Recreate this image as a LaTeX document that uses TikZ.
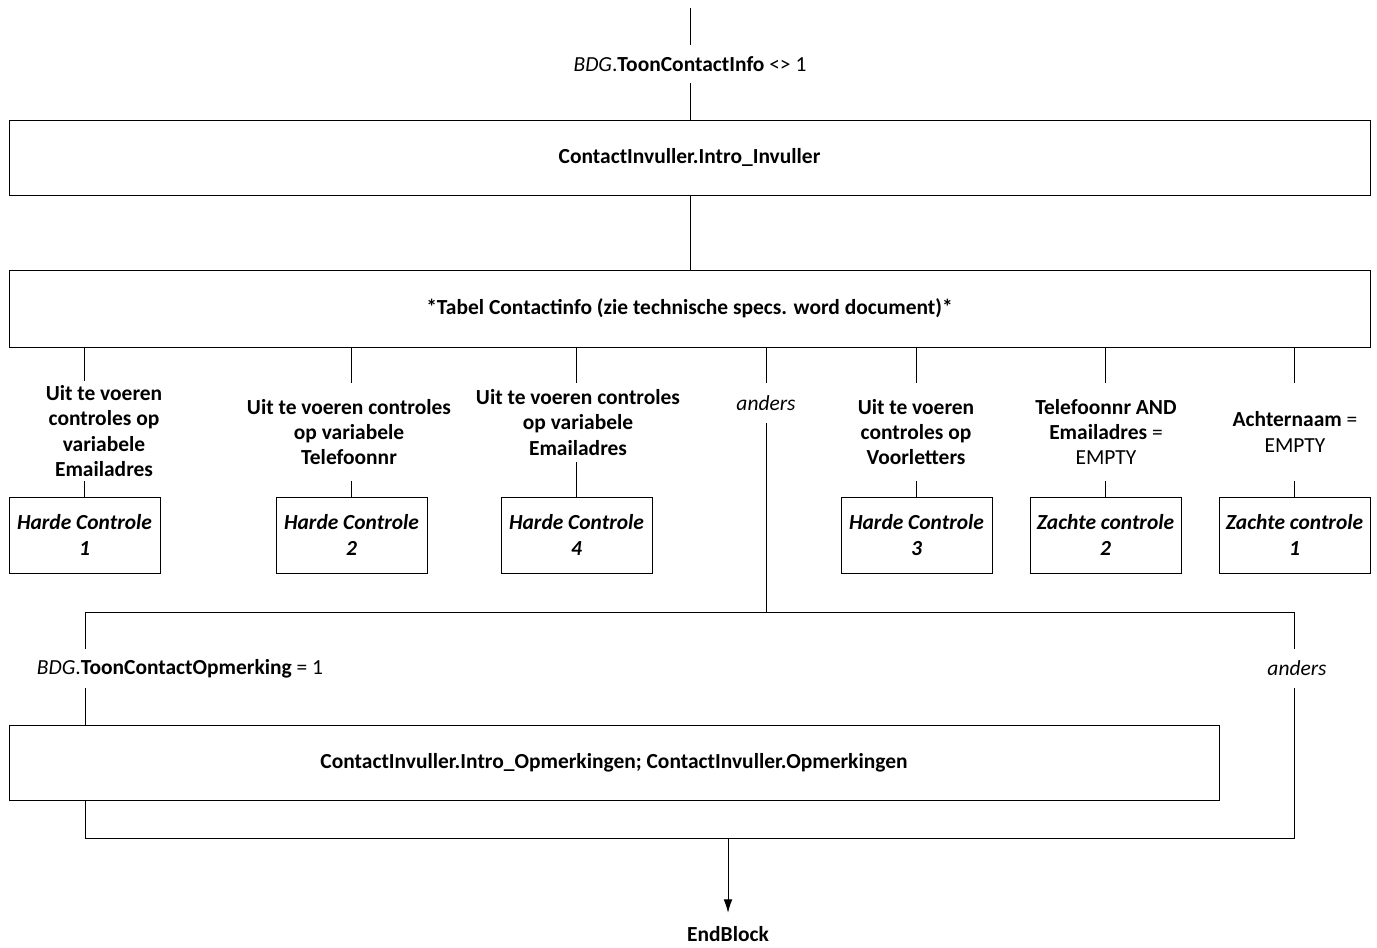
\documentclass[tikz,border=0pt]{standalone}
\usepackage{fontspec}
\setmainfont{Carlito}
\usetikzlibrary{arrows.meta,shadows}

\newcommand\flowfont{\fontsize{16.1}{18.9}\selectfont}

\tikzset{
  px/.style={x=0.75pt, y=-0.75pt},
  flow/.style={line width=0.6pt},
  wide/.style={draw, fill=white, line width=0.6pt, minimum height=56.25pt,
    font=\flowfont\bfseries,
    drop shadow={shadow xshift=0.7pt, shadow yshift=-0.7pt, fill=black!45, opacity=1}},
  check/.style={draw, fill=white, line width=0.6pt, minimum width=113.25pt,
    minimum height=57pt, align=center, font=\flowfont\bfseries\itshape,
    drop shadow={shadow xshift=0.7pt, shadow yshift=-0.7pt, fill=black!45, opacity=1}},
  cond/.style={align=center, inner sep=0pt, font=\flowfont\bfseries},
  otherwise/.style={inner sep=0pt, font=\flowfont\itshape},
  guard/.style={inner sep=0pt, font=\flowfont}
}

\begin{document}
\begin{tikzpicture}[px]
\useasboundingbox (0,0) rectangle (1377,948);

% start
\coordinate (start) at (690,8);
\node[guard, minimum height=28.5pt] (cinfo) at (690,64)
  {\textit{BDG}.\textbf{ToonContactInfo} <> 1};
\node[wide, minimum width=1020.75pt] (intro) at (689.5,157.5)
  {ContactInvuller.Intro\_Invuller};
\node[wide, minimum width=1020.75pt, minimum height=57.75pt] (tabel) at (689.5,308.5)
  {*Tabel Contactinfo (zie technische specs. word document)*};

\draw[flow] (start) -- (cinfo.north);
\draw[flow] (cinfo.south) -- (cinfo.south |- intro.north);
\draw[flow] (cinfo.south |- intro.south) -- (cinfo.south |- tabel.north);

% controles
\node[check] (hc1) at (84.5,535) {Harde Controle\\1};
\node[check] (hc2) at (351.5,535) {Harde Controle\\2};
\node[check] (hc4) at (576.5,535) {Harde Controle\\4};
\node[check] (hc3) at (916.5,535) {Harde Controle\\3};
\node[check] (zc2) at (1105.5,535) {Zachte controle\\2};
\node[check] (zc1) at (1294.5,535) {Zachte controle\\1};

\node[cond, minimum height=75pt] (lbl1) at (104,431)
  {Uit te voeren\\controles op\\variabele\\Emailadres};
\node[cond, minimum height=72.75pt] (lbl2) at (349,432)
  {Uit te voeren controles\\op variabele\\Telefoonnr};
\node[cond, minimum height=59.25pt] (lbl3) at (578,422.5)
  {Uit te voeren controles\\op variabele\\Emailadres};
\node[otherwise, minimum height=30pt] (anders1) at (766,403) {anders};
\node[cond, minimum height=72.75pt] (lbl5) at (916,432)
  {Uit te voeren\\controles op\\Voorletters};
\node[cond, minimum height=72.75pt] (lbl6) at (1106,432)
  {Telefoonnr AND\\Emailadres {\mdseries =}\\{\mdseries EMPTY}};
\node[cond, minimum height=72.75pt] (lbl7) at (1295,432)
  {Achternaam {\mdseries =}\\{\mdseries EMPTY}};

\foreach \c/\l in {hc1/lbl1, hc2/lbl2, hc4/lbl3, hc3/lbl5, zc2/lbl6, zc1/lbl7} {
  \draw[flow] (\c.north |- tabel.south) -- (\c.north |- \l.north);
  \draw[flow] (\c.north |- \l.south) -- (\c.north);
}

% opmerkingen
\coordinate (splitL) at (85,612);
\coordinate (splitR) at (1294.5,612);
\coordinate (joinL) at (85,838);
\coordinate (joinR) at (1294.5,838);

\node[guard, minimum height=29.25pt] (opm) at (180,668.5)
  {\textit{BDG}.\textbf{ToonContactOpmerking} = 1};
\node[otherwise, minimum height=29.25pt] (anders2) at (1297,668.5) {anders};
\node[wide, minimum width=907.5pt] (opmbox) at (614,762.5)
  {ContactInvuller.Intro\_Opmerkingen; ContactInvuller.Opmerkingen};
\node[inner sep=0pt, minimum height=31.5pt, font=\flowfont\bfseries] (endblock) at (728,934)
  {EndBlock};

\draw[flow] (anders1.north |- tabel.south) -- (anders1.north);
\draw[flow] (anders1.south) -- (anders1.south |- splitL);
\draw[flow] (splitL) -- (splitR);
\draw[flow] (splitL) -- (splitL |- opm.north);
\draw[flow] (splitL |- opm.south) -- (splitL |- opmbox.north);
\draw[flow] (splitR) -- (splitR |- anders2.north);
\draw[flow] (splitL |- opmbox.south) -- (joinL) -- (joinR) -- (splitR |- anders2.south);
\draw[flow, -{Latex[length=10pt, width=6.5pt]}] (joinL -| endblock.north) -- (endblock.north);

\end{tikzpicture}
\end{document}
